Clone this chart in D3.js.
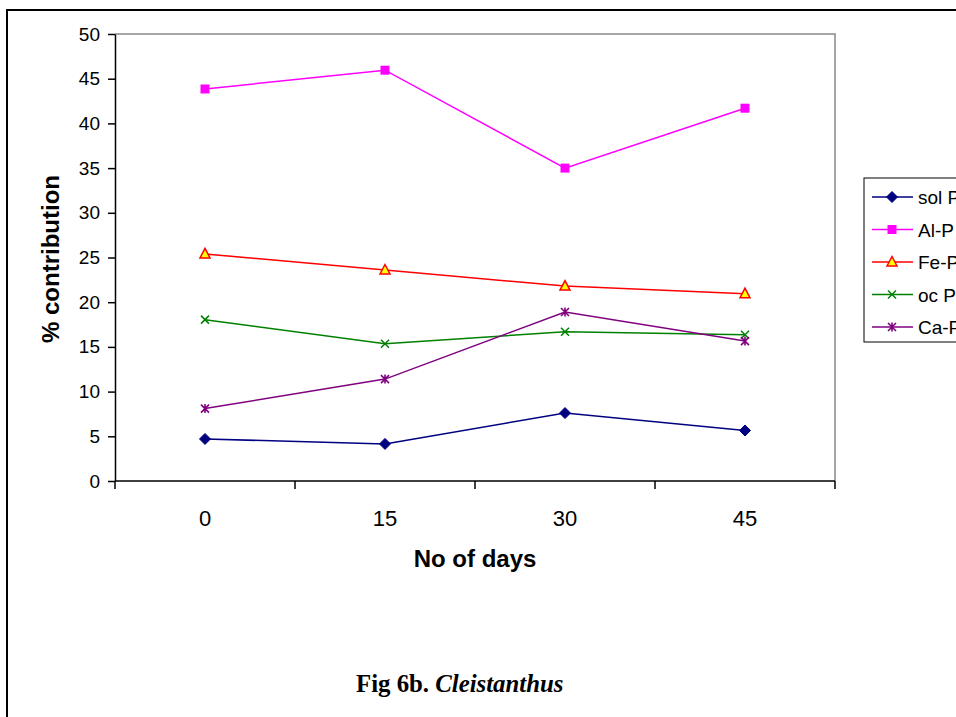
<!DOCTYPE html>
<html>
<head>
<meta charset="utf-8">
<script src="https://cdn.jsdelivr.net/npm/d3@7"></script>
<style>
  html, body { margin: 0; padding: 0; background: #fff; }
  svg { display: block; }
</style>
</head>
<body>
<svg id="chart" width="956" height="717"></svg>
<script>
// Sampling days and phosphorus fraction contributions (%)
const days = ["0", "15", "30", "45"];
const yTicks = [0, 5, 10, 15, 20, 25, 30, 35, 40, 45, 50];

const solP = [4.7, 4.15, 7.6, 5.65];
const alP  = [43.85, 45.95, 35.0, 41.7];
const feP  = [25.4, 23.6, 21.8, 20.95];
const ocP  = [18.05, 15.35, 16.7, 16.35];
const caP  = [8.1, 11.4, 18.9, 15.65];

const seriesNames = ["sol P", "Al-P", "Fe-P", "oc P", "Ca-P"];
const seriesValues = [solP, alP, feP, ocP, caP];
const seriesColors = ["#000080", "#ff00ff", "#ff0000", "#008000", "#800080"];
const seriesMarkers = ["diamond", "square", "triangle", "x", "star"];

const svg = d3.select("#chart");

// Outer figure frame
svg.append("rect")
  .attr("x", 7).attr("y", 10)
  .attr("width", 1000).attr("height", 800)
  .attr("fill", "none").attr("stroke", "#000").attr("stroke-width", 2);

const plot = { left: 115, top: 34, right: 835, bottom: 481 };

const x = d3.scaleBand().domain(days).range([plot.left, plot.right]).padding(0);
const y = d3.scaleLinear().domain([0, 50]).range([plot.bottom, plot.top]);

// Plot area border (top and right in grey)
svg.append("path")
  .attr("d", `M${plot.left},${plot.top}H${plot.right}V${plot.bottom}`)
  .attr("fill", "none").attr("stroke", "#888").attr("stroke-width", 1.5);

// Y axis
const yAxis = svg.append("g")
  .attr("transform", `translate(${plot.left},0)`)
  .call(d3.axisLeft(y).tickValues(yTicks).tickSize(7).tickPadding(8).tickSizeOuter(0));
yAxis.select(".domain").attr("stroke", "#000").attr("stroke-width", 1.5);
yAxis.selectAll(".tick line").attr("stroke", "#000").attr("stroke-width", 1.5);
yAxis.selectAll("text")
  .attr("font-family", "Liberation Sans, Arial, sans-serif")
  .attr("font-size", 19).attr("fill", "#000");

// X axis: ticks at category boundaries, labels centred in bands
const xAxisG = svg.append("g").attr("transform", `translate(0,${plot.bottom})`);
xAxisG.append("line")
  .attr("x1", plot.left).attr("x2", plot.right)
  .attr("stroke", "#000").attr("stroke-width", 1.5);
const bounds = days.map(d => x(d)).concat([x(days[days.length - 1]) + x.bandwidth()]);
xAxisG.selectAll("line.tk").data(bounds).enter().append("line")
  .attr("class", "tk")
  .attr("x1", d => d).attr("x2", d => d)
  .attr("y1", 0).attr("y2", 8)
  .attr("stroke", "#000").attr("stroke-width", 1.5);
xAxisG.selectAll("text").data(days).enter().append("text")
  .attr("x", d => x(d) + x.bandwidth() / 2)
  .attr("y", 45)
  .attr("text-anchor", "middle")
  .attr("font-family", "Liberation Sans, Arial, sans-serif")
  .attr("font-size", 22).attr("fill", "#000")
  .text(d => d);

// Axis titles
svg.append("text")
  .attr("transform", "translate(59,259) rotate(-90)")
  .attr("text-anchor", "middle")
  .attr("font-family", "Liberation Sans, Arial, sans-serif")
  .attr("font-weight", "bold").attr("font-size", 24)
  .text("% contribution");

svg.append("text")
  .attr("x", 475).attr("y", 567)
  .attr("text-anchor", "middle")
  .attr("font-family", "Liberation Sans, Arial, sans-serif")
  .attr("font-weight", "bold").attr("font-size", 24)
  .text("No of days");

// Caption
const cap = svg.append("text")
  .attr("x", 356).attr("y", 692)
  .attr("font-family", "Liberation Serif, Times New Roman, serif")
  .attr("font-weight", "bold").attr("font-size", 24.8);
cap.append("tspan").text("Fig 6b. ");
cap.append("tspan").attr("font-style", "italic").text("Cleistanthus");

// Marker drawing
function drawMarker(g, type, color, cx, cy) {
  if (type === "diamond") {
    g.append("path")
      .attr("d", `M${cx},${cy - 5.5}L${cx + 5.5},${cy}L${cx},${cy + 5.5}L${cx - 5.5},${cy}Z`)
      .attr("fill", color).attr("stroke", color).attr("stroke-width", 1);
  } else if (type === "square") {
    g.append("rect")
      .attr("x", cx - 4.5).attr("y", cy - 4.5).attr("width", 9).attr("height", 9)
      .attr("fill", color);
  } else if (type === "triangle") {
    g.append("path")
      .attr("d", `M${cx},${cy - 5.5}L${cx + 5},${cy + 4}L${cx - 5},${cy + 4}Z`)
      .attr("fill", "#ffff00").attr("stroke", color).attr("stroke-width", 1.5);
  } else if (type === "x") {
    g.append("path")
      .attr("d", `M${cx - 4},${cy - 4}L${cx + 4},${cy + 4}M${cx - 4},${cy + 4}L${cx + 4},${cy - 4}`)
      .attr("stroke", color).attr("stroke-width", 1.5).attr("fill", "none");
  } else if (type === "star") {
    g.append("path")
      .attr("d", `M${cx - 4},${cy - 4}L${cx + 4},${cy + 4}M${cx - 4},${cy + 4}L${cx + 4},${cy - 4}M${cx},${cy - 4.5}V${cy + 4.5}`)
      .attr("stroke", color).attr("stroke-width", 1.6).attr("fill", "none");
  }
}

// Series lines and markers
const line = d3.line()
  .x((d, i) => x(days[i]) + x.bandwidth() / 2)
  .y(d => y(d));

seriesValues.forEach((vals, si) => {
  const g = svg.append("g");
  g.append("path")
    .attr("d", line(vals))
    .attr("fill", "none")
    .attr("stroke", seriesColors[si])
    .attr("stroke-width", 1.5);
  vals.forEach((v, i) => {
    drawMarker(g, seriesMarkers[si], seriesColors[si], x(days[i]) + x.bandwidth() / 2, y(v));
  });
});

// Legend (its box runs past the right edge of the figure)
const legend = svg.append("g");
legend.append("rect")
  .attr("x", 864).attr("y", 178).attr("width", 200).attr("height", 164)
  .attr("fill", "#fff").attr("stroke", "#000").attr("stroke-width", 1);
seriesNames.forEach((name, i) => {
  const ly = 197 + i * 32.5;
  legend.append("line")
    .attr("x1", 872).attr("x2", 913).attr("y1", ly).attr("y2", ly)
    .attr("stroke", seriesColors[i]).attr("stroke-width", 1.5);
  drawMarker(legend, seriesMarkers[i], seriesColors[i], 892, ly);
  legend.append("text")
    .attr("x", 918).attr("y", ly + 7)
    .attr("font-family", "Liberation Sans, Arial, sans-serif")
    .attr("font-size", 19).attr("fill", "#000")
    .text(name);
});
</script>
</body>
</html>
